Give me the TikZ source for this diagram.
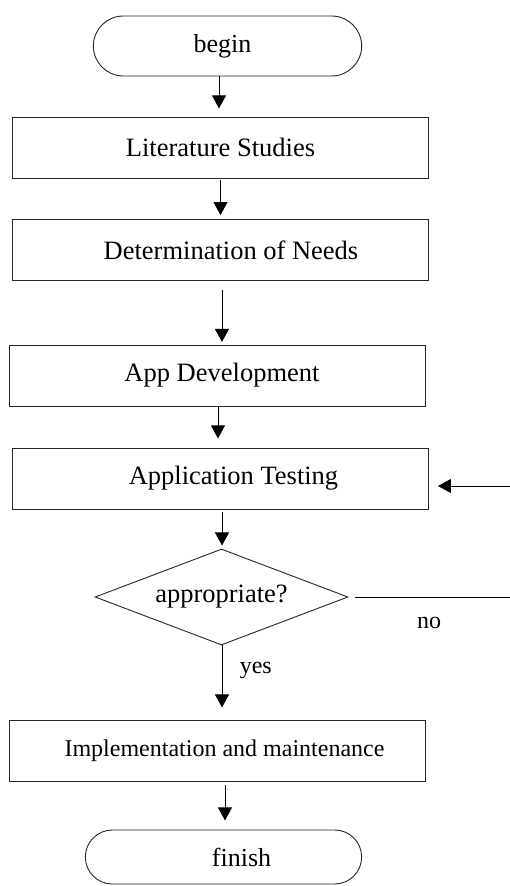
\documentclass[tikz,border=0pt]{standalone}
\usepackage{fontspec}
\setmainfont{Liberation Serif}
\usetikzlibrary{arrows.meta,shapes.geometric,shapes.misc}

\begin{document}
\begin{tikzpicture}[
    box/.style={rectangle, draw=black!85, line width=0.9pt, minimum width=416pt, minimum height=61pt, align=center, font=\fontsize{26.5pt}{30pt}\selectfont},
    term/.style={rounded rectangle, draw=black!85, line width=0.9pt, minimum height=60pt, font=\fontsize{26pt}{30pt}\selectfont},
    decide/.style={diamond, draw=black!85, line width=0.9pt, minimum width=253pt, minimum height=96pt, aspect=2.64, inner sep=0pt, font=\fontsize{26.5pt}{30pt}\selectfont},
    arrow/.style={-{Triangle[width=14pt,length=13pt]}, line width=0.9pt},
    lbl/.style={font=\fontsize{24pt}{28pt}\selectfont}
]
\useasboundingbox (0,0) rectangle (510pt,-886pt);

% start
\node[term, minimum width=275pt] (begin) at (227.5pt,-46pt) {begin\hspace*{10pt}};

% steps
\node[box, below of=begin, node distance=101.5pt, xshift=-7pt] (lit) {Literature Studies};
\node[box, below of=lit, node distance=102.5pt] (needs) {\hspace*{21pt}Determination of Needs};
\node[box, below of=needs, node distance=125.5pt, xshift=-3.5pt] (dev) {\hspace*{10pt}App Development};
\node[box, below of=dev, node distance=103pt, xshift=3.5pt] (test) {\hspace*{26pt}Application Testing};

% decision
\node[decide, below of=test, node distance=118.5pt, xshift=1pt] (check) {appropriate?};

% end
\node[box, below of=check, node distance=153.5pt, xshift=-4.5pt, font=\fontsize{24pt}{28pt}\selectfont] (impl) {\hspace*{15pt}Implementation and maintenance};
\node[term, minimum width=283pt, minimum height=54pt, below of=impl, node distance=106.5pt, xshift=6.5pt] (finish) {\hspace*{36pt}finish};

% loop ends at the edge
\coordinate (backin) at (510pt,-486pt);
\coordinate (backout) at (510pt,-597pt);

% connections
\draw[arrow, shorten >=4pt] (begin.south -| lit.north) ++(-1.5pt,0) -- ++(0,-36pt);
\draw[arrow, shorten >=4pt, shorten <=2pt] (lit.south) -- (needs.north);
\draw[arrow, shorten >=3pt, shorten <=9pt] (needs.south) ++(1.5pt,0) -- ++(0,-64pt);
\draw[arrow, shorten >=10pt] (dev.south) ++(1pt,0) -- ++(0,-42pt);
\draw[arrow, shorten >=4pt, shorten <=3pt] (test.south) ++(1.5pt,0) -- ++(0,-40pt);
\draw[arrow, shorten >=13pt] (check.south) ++(0.5pt,0) -- ++(0,-75pt) node[lbl, pos=0.33, right=14pt] {yes};
\draw[arrow, shorten >=10pt, shorten <=4pt] (impl.south) ++(8pt,0) -- ++(0,-49pt);
\draw[arrow, shorten >=9pt] (backin) -- (test.east |- backin);
\draw[line width=0.9pt, shorten <=7pt] (check.east) -- (check.east -| backout) node[lbl, pos=0.5, below=16pt] {no};

\end{tikzpicture}
\end{document}
